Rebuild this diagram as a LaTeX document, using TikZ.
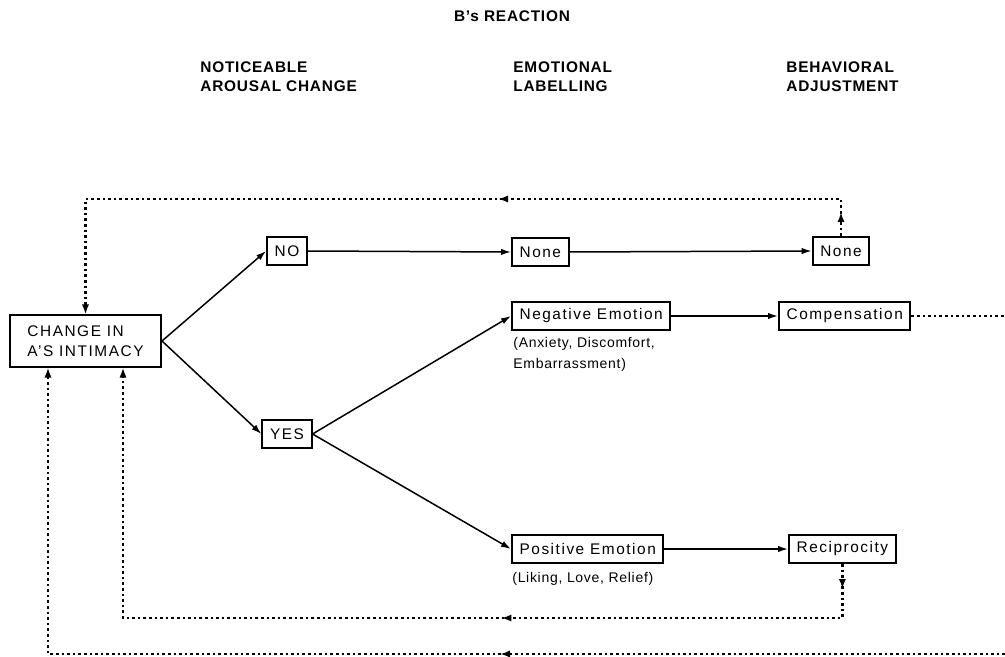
\documentclass[tikz,border=0pt]{standalone}
\usepackage{fontspec}
\setmainfont{Liberation Sans}
\usetikzlibrary{arrows.meta, decorations.markings}

\tikzset{
  box/.style={draw, line width=1pt, minimum height=14pt, inner xsep=3.8pt, inner ysep=2pt,
    font=\fontsize{7.7}{10}\selectfont\addfontfeatures{LetterSpace=10}},
  head/.style={align=left, inner sep=0pt, anchor=north west,
    font=\fontsize{7.7}{9.5}\selectfont\bfseries\addfontfeatures{LetterSpace=5}},
  note/.style={align=left, inner sep=0pt, anchor=north west,
    font=\fontsize{7}{10.5}\selectfont\addfontfeatures{LetterSpace=5}},
  flow/.style={line width=0.75pt, -{Latex[length=5pt,width=3.2pt]}},
  fb/.style={line width=1.4pt, dash pattern=on 1.3pt off 1.5pt, -{Latex[length=5pt,width=3.6pt]}},
  tipsat/.style 2 args={postaction={decorate}, decoration={markings,
    mark=at position #1 with {\arrow{Latex[length=5pt,width=3.6pt]}},
    mark=at position #2 with {\arrow{Latex[length=5pt,width=3.6pt]}}}},
  tipat/.style={postaction={decorate}, decoration={markings,
    mark=at position #1 with {\arrow{Latex[length=5pt,width=3.6pt]}}}},
}

\begin{document}
\begin{tikzpicture}[x=0.5pt, y=-0.5pt]
    \useasboundingbox (0,0) rectangle (1005,657);

    % Headings
    \node[head, anchor=center] (title) at (512,16) {B's REACTION};
    \node[head] (colarousal) at (200,61) {NOTICEABLE\\AROUSAL CHANGE};
    \node[head] (collabel) at (513,61) {EMOTIONAL\\LABELLING};
    \node[head] (coladjust) at (786,61) {BEHAVIORAL\\ADJUSTMENT};

    % Boxes
    \node[box, align=left, minimum width=75.5pt, minimum height=25.5pt] (change) at (85.5,341) {CHANGE IN\\A'S INTIMACY};
    \node[box] (no) at (287,251) {NO};
    \node[box] (yes) at (287,434) {YES};
    \node[box, anchor=west] (nonemid) at (511,252) {None};
    \node[box] (noneend) at (841,251) {None};
    \node[box, anchor=west] (neg) at (511,316) {Negative Emotion};
    \node[box, anchor=west] (comp) at (778,316) {Compensation};
    \node[box, anchor=west] (pos) at (511,549) {Positive Emotion};
    \node[box, anchor=west] (recip) at (788,549) {Reciprocity};

    % Notes under the emotions
    \node[note] (negnote) at (513,337) {(Anxiety, Discomfort,\\Embarrassment)};
    \node[note] (posnote) at (512,572) {(Liking, Love, Relief)};

    % Forward arrows
    \draw[flow] (change.east) -- (no.west);
    \draw[flow] (change.east) -- (yes.west);
    \draw[flow] (no.east) -- (nonemid.west);
    \draw[flow] (nonemid.east) -- (noneend.west);
    \draw[flow] (yes.east) -- (neg.west);
    \draw[flow] (yes.east) -- (pos.west);
    \draw[flow] (neg.east) -- (comp.west);
    \draw[flow] (pos.east) -- (recip.west);

    % Feedback loops
    \coordinate (topline) at (0,199);
    \coordinate (innerline) at (123,618);
    \coordinate (outerline) at (48,654);
    \coordinate (offright) at (1005,654);
    \draw[fb, tipsat={12pt}{190pt}] (noneend.north) |- (change.north |- topline) -- (change.north);
    \draw[fb, tipsat={12.5pt}{197.5pt}] (recip.south) |- (innerline) -- (change.south -| innerline);
    \draw[fb, tipat=252.5pt] (offright) -| (change.south -| outerline);
    \draw[fb, -] (comp.east) -- (comp.east -| offright);
\end{tikzpicture}
\end{document}
